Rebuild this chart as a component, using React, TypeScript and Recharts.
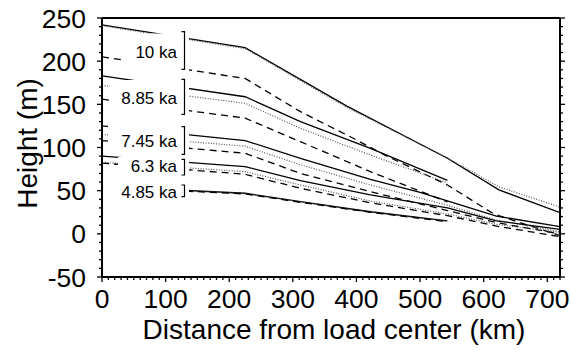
import React from 'react';
import { LineChart, Line, XAxis, YAxis } from 'recharts';

type Pt = [number, number];

// Profiles: distance from load center (km) -> height (m)
const ka10Solid: Pt[] = [[0, 242], [225, 215.6], [385, 148], [543, 87.5], [624, 51], [720, 24.5]];
const ka10Dotted: Pt[] = [[0, 241], [225, 214.5], [385, 146.5], [543, 88], [624, 54.5], [720, 31]];
const ka10Dashed: Pt[] = [[0, 205], [225, 180], [312, 141.5], [395, 110.7], [448, 90], [543, 56.6], [616, 23], [720, -2]];

const ka885Solid: Pt[] = [[0, 183], [225, 158.8], [312, 130], [422, 99], [543, 62]];
const ka885Dotted: Pt[] = [[0, 172], [225, 151.2], [312, 122.2], [422, 91.3], [543, 59]];
const ka885Dashed: Pt[] = [[0, 156], [225, 134], [312, 106.7], [422, 72], [543, 37]];

const ka745Solid: Pt[] = [[0, 125], [225, 108], [312, 87.5], [422, 63.2], [500, 48], [620, 20.6], [720, 8.3]];
const ka745Dotted: Pt[] = [[0, 115], [225, 101.5], [312, 80], [422, 56.6], [543, 33], [620, 16], [720, 2.5]];
const ka745Dashed: Pt[] = [[0, 108], [225, 93.3], [312, 70], [422, 48.8], [543, 27], [620, 13], [720, 0]];

const ka63Solid: Pt[] = [[0, 90], [225, 77.8], [312, 61.5], [422, 45], [543, 30], [620, 15], [720, 5.2]];
const ka63Dotted: Pt[] = [[0, 83], [225, 72], [312, 56.6], [422, 38], [543, 23], [620, 11], [720, 1.5]];
const ka63Dashed: Pt[] = [[0, 82], [225, 69], [312, 52.7], [422, 36], [543, 21], [620, 9], [720, -3.3]];

const ka485Solid: Pt[] = [[0, 55], [225, 47], [312, 37.2], [422, 25.6], [543, 15]];
const ka485Dotted: Pt[] = [[0, 54.5], [225, 46.5], [312, 37], [422, 25], [543, 14.5]];
const ka485Dashed: Pt[] = [[0, 54], [225, 46.2], [312, 36.5], [422, 25], [543, 14]];

const AGE_LABELS = ['10 ka', '8.85 ka', '7.45 ka', '6.3 ka', '4.85 ka'];

const X_MAJOR = [0, 100, 200, 300, 400, 500, 600, 700];
const Y_MAJOR = [-50, 0, 50, 100, 150, 200, 250];
const X_DOMAIN: [number, number] = [0, 720];
const Y_DOMAIN: [number, number] = [-50, 250];
const X_MINOR_STEP = 10;
const Y_MINOR_STEP = 10;

const FONT = '"Liberation Sans", Arial, Helvetica, sans-serif';

const STYLES = {
  solid: { stroke: '#000', strokeWidth: 1.3, strokeDasharray: undefined as string | undefined },
  dotted: { stroke: '#555', strokeWidth: 1.2, strokeDasharray: '1 1.6' },
  dashed: { stroke: '#000', strokeWidth: 1.3, strokeDasharray: '7 5' },
};

type Kind = keyof typeof STYLES;

const SERIES: { id: string; pts: Pt[]; kind: Kind }[] = [
  { id: 'ka10s', pts: ka10Solid, kind: 'solid' },
  { id: 'ka10o', pts: ka10Dotted, kind: 'dotted' },
  { id: 'ka10d', pts: ka10Dashed, kind: 'dashed' },
  { id: 'ka885s', pts: ka885Solid, kind: 'solid' },
  { id: 'ka885o', pts: ka885Dotted, kind: 'dotted' },
  { id: 'ka885d', pts: ka885Dashed, kind: 'dashed' },
  { id: 'ka745s', pts: ka745Solid, kind: 'solid' },
  { id: 'ka745o', pts: ka745Dotted, kind: 'dotted' },
  { id: 'ka745d', pts: ka745Dashed, kind: 'dashed' },
  { id: 'ka63s', pts: ka63Solid, kind: 'solid' },
  { id: 'ka63o', pts: ka63Dotted, kind: 'dotted' },
  { id: 'ka63d', pts: ka63Dashed, kind: 'dashed' },
  { id: 'ka485s', pts: ka485Solid, kind: 'solid' },
  { id: 'ka485o', pts: ka485Dotted, kind: 'dotted' },
  { id: 'ka485d', pts: ka485Dashed, kind: 'dashed' },
];

const range = (lo: number, hi: number, step: number) => {
  const out: number[] = [];
  for (let v = lo; v <= hi + 1e-9; v += step) out.push(Math.round(v));
  return out;
};

const X_TICKS = range(X_DOMAIN[0], X_DOMAIN[1], X_MINOR_STEP);
const Y_TICKS = range(Y_DOMAIN[0], Y_DOMAIN[1], Y_MINOR_STEP);

const MAJOR_LEN = 5;
const MINOR_LEN = 3;
const TICK_FONT = 26.5;
const TITLE_FONT = 28;

const BottomTick = (props: any) => {
  const { x, y, payload } = props;
  const v = payload.value;
  const major = X_MAJOR.includes(v);
  return (
    <g>
      <line x1={x} x2={x} y1={y} y2={y + (major ? MAJOR_LEN : MINOR_LEN)} stroke="#000" strokeWidth={1.3} />
      {major && (
        <text x={x} y={y + 30.5} textAnchor="middle" fontFamily={FONT} fontSize={TICK_FONT} fill="#000">
          {v}
        </text>
      )}
    </g>
  );
};

const TopTick = (props: any) => {
  const { x, y, payload } = props;
  const major = X_MAJOR.includes(payload.value);
  return <line x1={x} x2={x} y1={y} y2={y - (major ? MAJOR_LEN : MINOR_LEN)} stroke="#000" strokeWidth={1.3} />;
};

const LeftTick = (props: any) => {
  const { x, y, payload } = props;
  const v = payload.value;
  const major = Y_MAJOR.includes(v);
  return (
    <g>
      <line x1={x - (major ? MAJOR_LEN : MINOR_LEN)} x2={x} y1={y} y2={y} stroke="#000" strokeWidth={1.3} />
      {major && (
        <text x={x - 16} y={y + 9.5} textAnchor="end" fontFamily={FONT} fontSize={TICK_FONT} fill="#000">
          {v}
        </text>
      )}
    </g>
  );
};

const RightTick = (props: any) => {
  const { x, y, payload } = props;
  const major = Y_MAJOR.includes(payload.value);
  return <line x1={x} x2={x + (major ? MAJOR_LEN : MINOR_LEN)} y1={y} y2={y} stroke="#000" strokeWidth={1.3} />;
};

const XTitle = (props: any) => {
  const vb = props.viewBox || {};
  return (
    <text x={vb.x + vb.width / 2 + 3} y={vb.y + 62} textAnchor="middle" fontFamily={FONT} fontSize={TITLE_FONT} fill="#000">
      Distance from load center (km)
    </text>
  );
};

const YTitle = (props: any) => {
  const vb = props.viewBox || {};
  const cx = 37;
  const cy = vb.y + vb.height / 2 - 4;
  return (
    <text
      x={cx}
      y={cy}
      transform={`rotate(-90 ${cx} ${cy})`}
      textAnchor="middle"
      fontFamily={FONT}
      fontSize={TITLE_FONT}
      fill="#000"
    >
      Height (m)
    </text>
  );
};

// Age annotations: white backing box, right-aligned text and a bracket spanning the group
const ANNOTATION_LAYOUT = [
  { box: [124, 33.5, 189, 71], text: 52, bracket: [31.7, 69.3] },
  { box: [110, 80, 189, 116], text: 97.8, bracket: [79.3, 114.3] },
  { box: [108, 124, 189, 156], text: 140.8, bracket: [126.7, 154.3] },
  { box: [118, 157, 189, 177], text: 165.8, bracket: [159.3, 175] },
  { box: [103, 180, 189, 199], text: 192, bracket: [185, 196.7] },
];

const Annotations = () => (
  <svg
    width={571}
    height={350}
    style={{ position: 'absolute', left: 0, top: 0, pointerEvents: 'none' }}
  >
    {ANNOTATION_LAYOUT.map((a, i) => {
      const [x0, y0, x1, y1] = a.box;
      const [b0, b1] = a.bracket;
      return (
        <g key={AGE_LABELS[i]}>
          <rect x={x0} y={y0} width={x1 - x0} height={y1 - y0} fill="#fff" />
          <text x={177} y={a.text + 6.1} textAnchor="end" fontFamily={FONT} fontSize={17} fill="#000">
            {AGE_LABELS[i]}
          </text>
          <path
            d={`M181.5 ${b0} H184.5 V${b1} H181.5`}
            fill="none"
            stroke="#000"
            strokeWidth={1.2}
          />
        </g>
      );
    })}
  </svg>
);

export default function App() {
  return (
    <div style={{ position: 'absolute', left: 0, top: 0, width: 571, height: 350, background: '#fff' }}>
      <LineChart width={571} height={350} margin={{ top: 8, right: 1, bottom: 0, left: 0 }}>
        <XAxis
          xAxisId="xb"
          dataKey="km"
          type="number"
          domain={X_DOMAIN}
          allowDataOverflow
          ticks={X_TICKS}
          interval={0}
          orientation="bottom"
          height={73}
          tickSize={0}
          tickMargin={0}
          tickLine={false}
          tick={<BottomTick />}
          axisLine={{ stroke: '#000', strokeWidth: 2 }}
          label={<XTitle />}
        />
        <XAxis
          xAxisId="xt"
          type="number"
          domain={X_DOMAIN}
          allowDataOverflow
          ticks={X_TICKS}
          interval={0}
          orientation="top"
          height={10}
          tickSize={0}
          tickMargin={0}
          tickLine={false}
          tick={<TopTick />}
          axisLine={{ stroke: '#000', strokeWidth: 2 }}
        />
        <YAxis
          yAxisId="yl"
          type="number"
          domain={Y_DOMAIN}
          allowDataOverflow
          ticks={Y_TICKS}
          interval={0}
          orientation="left"
          width={102}
          tickSize={0}
          tickMargin={0}
          tickLine={false}
          tick={<LeftTick />}
          axisLine={{ stroke: '#000', strokeWidth: 2 }}
          label={<YTitle />}
        />
        <YAxis
          yAxisId="yr"
          type="number"
          domain={Y_DOMAIN}
          allowDataOverflow
          ticks={Y_TICKS}
          interval={0}
          orientation="right"
          width={10}
          tickSize={0}
          tickMargin={0}
          tickLine={false}
          tick={<RightTick />}
          axisLine={{ stroke: '#000', strokeWidth: 2 }}
        />
        {SERIES.map((s) => (
          <Line
            key={s.id}
            xAxisId="xb"
            yAxisId="yl"
            data={s.pts.map(([km, h]) => ({ km, h }))}
            dataKey="h"
            type="linear"
            dot={false}
            activeDot={false}
            isAnimationActive={false}
            stroke={STYLES[s.kind].stroke}
            strokeWidth={STYLES[s.kind].strokeWidth}
            strokeDasharray={STYLES[s.kind].strokeDasharray}
          />
        ))}
      </LineChart>
      <Annotations />
    </div>
  );
}
